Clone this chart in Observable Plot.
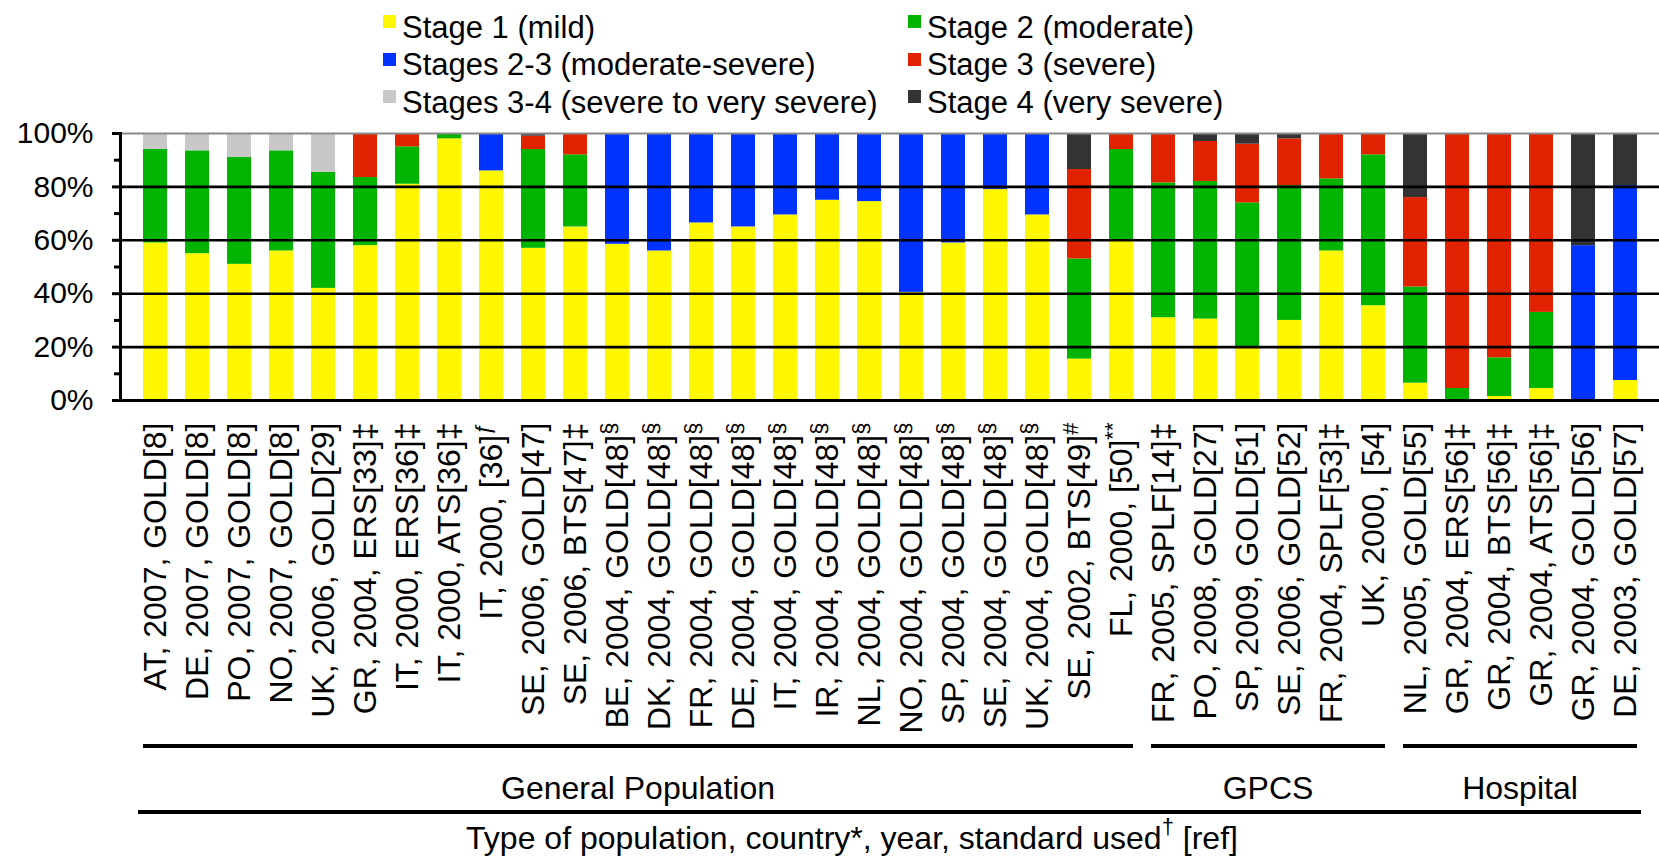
<!DOCTYPE html>
<html>
<head>
<meta charset="utf-8">
<script src="https://cdn.jsdelivr.net/npm/d3@7"></script>
<script src="https://cdn.jsdelivr.net/npm/@observablehq/plot@0.6"></script>
<style>
  body { margin: 0; background: #fff; font-family: "Liberation Sans", Arial, Helvetica, sans-serif; }
  #legend { position: relative; width: 1659px; height: 120px; font-size: 31px; color: #000; }
  #legend .item { position: absolute; white-space: nowrap; line-height: 37px; }
  #legend .sw { position: absolute; width: 13px; height: 13px; left: -19px; top: 6.5px; }
  svg { display: block; }
</style>
</head>
<body>
<div id="legend"></div>
<div id="chart"></div>
<script>
// ---- data ----
const labels = [
  "AT, 2007, GOLD[8]", "DE, 2007, GOLD[8]", "PO, 2007, GOLD[8]", "NO, 2007, GOLD[8]",
  "UK, 2006, GOLD[29]", "GR, 2004, ERS[33]", "IT, 2000, ERS[36]", "IT, 2000, ATS[36]",
  "IT, 2000, [36]", "SE, 2006, GOLD[47]", "SE, 2006, BTS[47]", "BE, 2004, GOLD[48]",
  "DK, 2004, GOLD[48]", "FR, 2004, GOLD[48]", "DE, 2004, GOLD[48]", "IT, 2004, GOLD[48]",
  "IR, 2004, GOLD[48]", "NL, 2004, GOLD[48]", "NO, 2004, GOLD[48]", "SP, 2004, GOLD[48]",
  "SE, 2004, GOLD[48]", "UK, 2004, GOLD[48]", "SE, 2002, BTS[49]", "FL, 2000, [50]",
  "FR, 2005, SPLF[14]", "PO, 2008, GOLD[27]", "SP, 2009, GOLD[51]", "SE, 2006, GOLD[52]",
  "FR, 2004, SPLF[53]", "UK, 2000, [54]", "NL, 2005, GOLD[55]", "GR, 2004, ERS[56]",
  "GR, 2004, BTS[56]", "GR, 2004, ATS[56]", "GR, 2004, GOLD[56]", "DE, 2003, GOLD[57]"
];
const sups = [
  "", "", "", "", "", "‡", "‡", "‡", "ƒ", "", "‡", "§",
  "§", "§", "§", "§", "§", "§", "§", "§", "§", "§", "#", "**",
  "‡", "", "", "", "‡", "", "", "‡", "‡", "‡", "", ""
];
const stages = [
  "Stage 1 (mild)", "Stage 2 (moderate)", "Stages 2-3 (moderate-severe)",
  "Stage 3 (severe)", "Stages 3-4 (severe to very severe)", "Stage 4 (very severe)"
];
const stageColors = ["#fff700", "#00b400", "#0033ff", "#e02200", "#c8c8c8", "#333333"];

const stage1  = [59, 55, 51, 56, 42, 58, 81, 98, 86, 57, 65, 58.5, 56, 66.5, 65, 69.5, 75, 74.5, 40.5, 59, 79, 69.5, 15.5, 60, 31, 30.5, 20, 30, 56, 35.5, 6.5, 0, 1.5, 4.5, 0, 7.5];
const stage2  = [35, 38.5, 40, 37.5, 43.5, 25.5, 14, 2, 0, 37, 27, 0, 0, 0, 0, 0, 0, 0, 0, 0, 0, 0, 37.5, 34, 50.5, 51.5, 54, 50.5, 27, 56.5, 36, 4.5, 14.5, 28.5, 0, 0];
const stage23 = [0, 0, 0, 0, 0, 0, 0, 0, 14, 0, 0, 41.5, 44, 33.5, 35, 30.5, 25, 25.5, 59.5, 41, 21, 30.5, 0, 0, 0, 0, 0, 0, 0, 0, 0, 0, 0, 0, 58, 73];
const stage3  = [0, 0, 0, 0, 0, 16.5, 5, 0, 0, 5, 8, 0, 0, 0, 0, 0, 0, 0, 0, 0, 0, 0, 33.5, 6, 18.5, 15, 22, 17.5, 17, 8, 33.5, 95.5, 84, 67, 0, 0];
const stage34 = [6, 6.5, 9, 6.5, 14.5, 0, 0, 0, 0, 0, 0, 0, 0, 0, 0, 0, 0, 0, 0, 0, 0, 0, 0, 0, 0, 0, 0, 0, 0, 0, 0, 0, 0, 0, 0, 0];
const stage4  = [0, 0, 0, 0, 0, 0, 0, 0, 0, 1, 0, 0, 0, 0, 0, 0, 0, 0, 0, 0, 0, 0, 13.5, 0, 0, 3, 4, 2, 0, 0, 24, 0, 0, 0, 42, 19.5];

const yTicks = [0, 20, 40, 60, 80, 100];
const yMinorTicks = [10, 30, 50, 70, 90];
const gridValues = [20, 40, 60, 80];

const groupNames = ["General Population", "GPCS", "Hospital"];
const groupSizes = [24, 6, 6];
const axisTitle = "Type of population, country*, year, standard used";
const axisTitleSup = "†";
const axisTitleEnd = " [ref]";

// ---- build table ----
const series = [stage1, stage2, stage23, stage3, stage34, stage4];
const rows = [];
labels.forEach((lab, i) => {
  stages.forEach((st, s) => rows.push({label: lab, stage: st, value: series[s][i]}));
});

// ---- legend (HTML) ----
const legend = document.getElementById("legend");
const colLeft = [402, 927];
const rowTop = [8.5, 46, 83.5];
stages.forEach((st, i) => {
  const item = document.createElement("div");
  item.className = "item";
  item.style.left = colLeft[i % 2] + "px";
  item.style.top = rowTop[Math.floor(i / 2)] + "px";
  const sw = document.createElement("span");
  sw.className = "sw";
  sw.style.background = stageColors[i];
  item.appendChild(sw);
  item.appendChild(document.createTextNode(st));
  legend.appendChild(item);
});

// ---- chart ----
const FONT = '"Liberation Sans", Arial, Helvetica, sans-serif';
const plot = Plot.plot({
  width: 1659,
  height: 738,
  marginLeft: 120,
  marginRight: 0,
  marginTop: 13,
  marginBottom: 458,
  style: {fontFamily: FONT, color: "#000", background: "#fff", overflow: "visible"},
  x: {type: "band", domain: labels, paddingInner: 0.44, paddingOuter: 0.217, label: null},
  y: {domain: [0, 100], label: null},
  color: {domain: stages, range: stageColors},
  marks: [
    Plot.barY(rows, {x: "label", y: "value", fill: "stage"}),
    Plot.ruleY([100], {stroke: "#8a8a8a", strokeWidth: 2}),
    Plot.ruleY(gridValues, {stroke: "#000", strokeWidth: 2.6}),
    Plot.ruleY([0], {stroke: "#000", strokeWidth: 3}),
    Plot.frame({anchor: "left", stroke: "#000", strokeWidth: 3}),
    Plot.axisY({ticks: yTicks, tickFormat: d => d + "%", tickSize: 8, tickPadding: 19, fontSize: 30, strokeWidth: 3, stroke: "#000", fill: "#000", label: null}),
    Plot.axisY({ticks: yMinorTicks, tickFormat: () => "", tickSize: 6, strokeWidth: 3, stroke: "#000", label: null}),
    Plot.axisX({tickRotate: -90, tickSize: 0, tickPadding: 22, fontSize: 32, fill: "#000", label: null})
  ]
});
document.getElementById("chart").appendChild(plot);

// superscripts on the category labels
const supByLabel = new Map(labels.map((l, i) => [l, sups[i]]));
d3.select(plot).selectAll("text").each(function () {
  const t = this.textContent;
  if (!supByLabel.has(t)) return;
  const s = supByLabel.get(t);
  if (!s) return;
  const sel = d3.select(this);
  if (s === "‡") {
    sel.append("tspan").text(s);
  } else {
    sel.append("tspan").attr("font-size", 22).attr("dy", "-0.55em").text(s);
  }
});

// group brackets, group names and axis title using the x scale
const xs = plot.scale("x");
const bw = xs.bandwidth;
const xStart = l => xs.apply(l);
const svg = d3.select(plot);
const ann = svg.append("g").attr("font-family", FONT).attr("fill", "#000");
let idx = 0;
groupNames.forEach((g, gi) => {
  const first = labels[idx];
  const last = labels[idx + groupSizes[gi] - 1];
  const x1 = xStart(first);
  const x2 = xStart(last) + bw;
  ann.append("line").attr("x1", x1).attr("x2", x2).attr("y1", 626).attr("y2", 626)
    .attr("stroke", "#000").attr("stroke-width", 4);
  ann.append("text").attr("x", (x1 + x2) / 2).attr("y", 678.5)
    .attr("text-anchor", "middle").attr("font-size", 32).text(g);
  idx += groupSizes[gi];
});
const lx1 = xStart(labels[0]) - 5;
const lx2 = xStart(labels[labels.length - 1]) + bw + 4;
ann.append("line").attr("x1", lx1).attr("x2", lx2).attr("y1", 692).attr("y2", 692)
  .attr("stroke", "#000").attr("stroke-width", 4);
const title = ann.append("text").attr("x", 852).attr("y", 729)
  .attr("text-anchor", "middle").attr("font-size", 32);
title.append("tspan").text(axisTitle);
title.append("tspan").attr("font-size", 22).attr("dy", "-0.7em").text(axisTitleSup);
title.append("tspan").attr("dy", "0.49em").attr("font-size", 32).text(axisTitleEnd);
</script>
</body>
</html>
